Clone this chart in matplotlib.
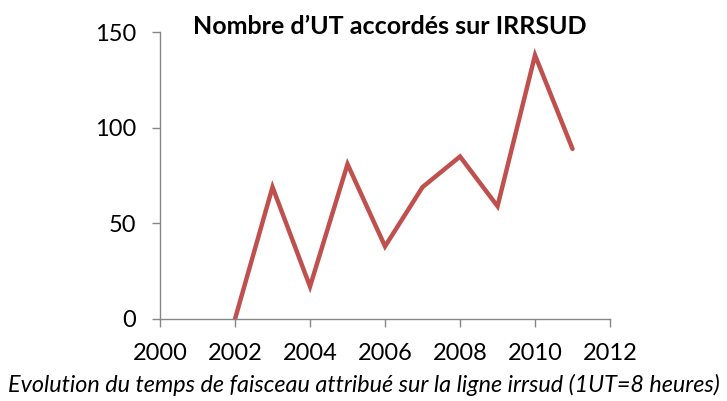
import matplotlib
matplotlib.use("Agg")
import matplotlib.pyplot as plt

years = [2002, 2003, 2004, 2005, 2006, 2007, 2008, 2009, 2010, 2011]
ut_count = [0, 69, 17, 81, 38, 69, 85, 59, 138, 89]
x_ticks = [2000, 2002, 2004, 2006, 2008, 2010, 2012]
y_ticks = [0, 50, 100, 150]

title = "Nombre d\u2019UT accordés sur IRRSUD"
caption = "Evolution du temps de faisceau attribué sur la ligne irrsud (1UT=8 heures)"

plt.rcParams["font.family"] = ["Lato", "DejaVu Sans"]

fig = plt.figure(figsize=(7.27, 4.01), dpi=100)
ax = fig.add_axes([0.2201, 0.2045, 0.619, 0.715])

ax.plot(years, ut_count, color="#C0504D", linewidth=3.2, solid_capstyle="round",
        solid_joinstyle="miter")

ax.set_xlim(2000, 2012)
ax.set_ylim(0, 150)
ax.set_xticks(x_ticks)
ax.set_yticks(y_ticks)

for side in ("top", "right"):
    ax.spines[side].set_visible(False)
for side in ("left", "bottom"):
    ax.spines[side].set_color("#868686")
    ax.spines[side].set_linewidth(1.0)

ax.tick_params(axis="both", colors="#868686", length=6, width=1.0,
               labelcolor="black", labelsize=17)
ax.tick_params(axis="x", pad=11)
ax.tick_params(axis="y", pad=11)

fig.text(0.536, 0.935, title, ha="center", va="center", fontsize=18,
         fontweight="bold")
fig.text(0.5, 0.04, caption, ha="center", va="center", fontsize=16.8,
         style="italic")

fig.savefig("out.png", dpi=100)
